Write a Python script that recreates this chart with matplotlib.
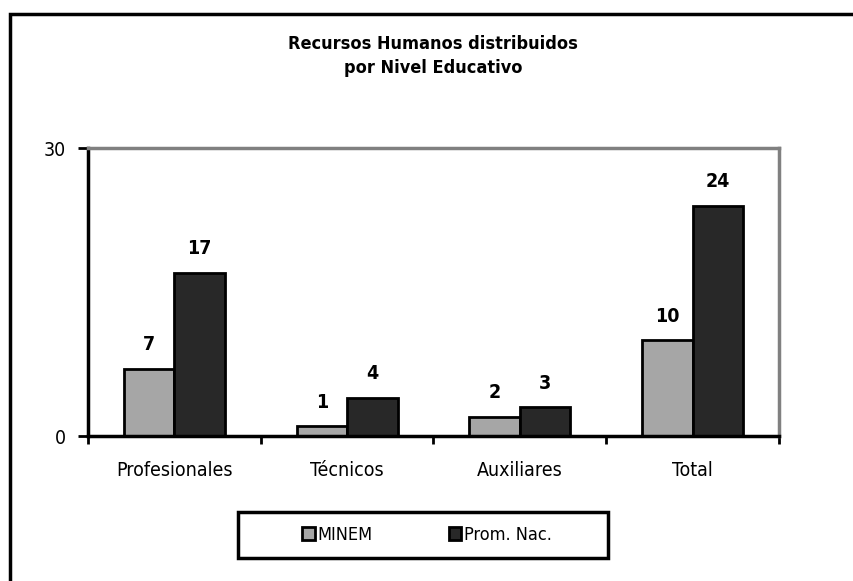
import numpy as np
import matplotlib
matplotlib.use("Agg")
import matplotlib.pyplot as plt
from matplotlib.patches import Rectangle, Patch

plt.rcParams['font.family'] = ['DejaVu Sans']
plt.rcParams['font.stretch'] = 'condensed'

categories = ['Profesionales', 'Técnicos', 'Auxiliares', 'Total']
minem = [7, 1, 2, 10]
prom_nac = [17, 4, 3, 24]
series_names = ['MINEM', 'Prom. Nac.']
title = 'Recursos Humanos distribuidos\npor Nivel Educativo'

col_minem = '#a6a6a6'
col_prom = '#282828'

fig = plt.figure(figsize=(8.54, 5.81), dpi=100)
ax = fig.add_axes([88/854, 1-436/581, 691/854, 288/581])

x = np.arange(len(categories))
w = 0.293
b1 = ax.bar(x - w/2, minem, w, color=col_minem, edgecolor='black', linewidth=2)
b2 = ax.bar(x + w/2, prom_nac, w, color=col_prom, edgecolor='black', linewidth=2)

for bars, vals in ((b1, minem), (b2, prom_nac)):
    for r, v in zip(bars, vals):
        ax.text(r.get_x() + r.get_width()/2, v + 1.5, str(v), ha='center', va='bottom',
                fontsize=14, fontweight='bold')

ax.set_xlim(-0.5, len(categories) - 0.5)
ax.set_ylim(0, 30)
ax.set_yticks([0, 30])
ax.set_xticks(np.arange(len(categories) + 1) - 0.5)
ax.set_xticklabels([])
ax.set_xticks(x, minor=True)
ax.set_xticklabels(categories, minor=True, fontsize=14)
ax.tick_params(axis='x', which='minor', length=0, pad=18)
ax.tick_params(axis='x', which='major', length=6, width=2, direction='out')
ax.tick_params(axis='y', length=7, width=2, labelsize=14, pad=9)

for s in ('left', 'bottom'):
    ax.spines[s].set_color('black')
    ax.spines[s].set_linewidth(2.5)
for s in ('top', 'right'):
    ax.spines[s].set_color('#808080')
    ax.spines[s].set_linewidth(2.5)

fig.text(433/854, 1-56/581, title, ha='center', va='center', fontsize=13,
         fontweight='bold', linespacing=1.4)

# outer chart frame (runs off the right and bottom edges)
fig.patches.append(Rectangle((10.5/854, -0.1), 1.2, 1.1 - 13.5/581,
                             transform=fig.transFigure, fill=False,
                             edgecolor='black', linewidth=2.5))

# legend box
fig.patches.append(Rectangle((238/854, 1-558/581), 370/854, 46/581,
                             transform=fig.transFigure, fill=False,
                             edgecolor='black', linewidth=2.5))
handles = [Patch(facecolor=col_minem, edgecolor='black', linewidth=2),
           Patch(facecolor=col_prom, edgecolor='black', linewidth=2)]
fig.legend(handles, series_names, loc='center', bbox_to_anchor=(427/854, 1-535/581),
           ncol=2, frameon=False, fontsize=13, handlelength=0.7, handleheight=0.7,
           handletextpad=0.15, columnspacing=4.2)

fig.savefig('out.png', dpi=100)
